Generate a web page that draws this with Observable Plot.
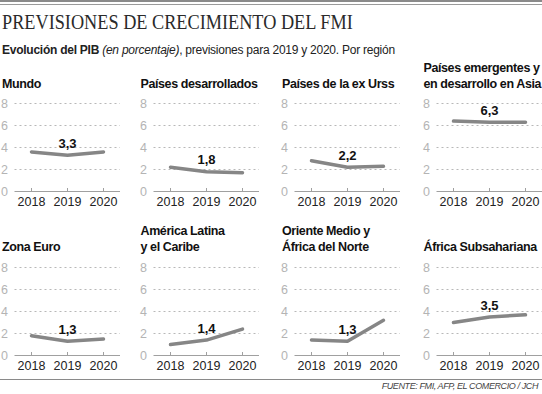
<!DOCTYPE html>
<html>
<head>
<meta charset="utf-8">
<script src="https://cdn.jsdelivr.net/npm/d3@7"></script>
<script src="https://cdn.jsdelivr.net/npm/@observablehq/plot@0.6"></script>
<style>
  html, body { margin: 0; padding: 0; background: #fff; }
  #root { position: relative; width: 542px; height: 394px; overflow: hidden; background: #fff; font-family: "Liberation Sans", Arial, sans-serif; color: #222; }
  .abs { position: absolute; white-space: nowrap; }
  .ptitle { font-weight: bold; font-size: 12.5px; letter-spacing: -0.4px; color: #111; line-height: 16px; }
  .panel { position: absolute; width: 141px; height: 120px; }
  .panel svg { overflow: visible; max-width: none !important; }
</style>
</head>
<body>
<div id="root"></div>
<script>
// ---- data ----
const years = ["2018", "2019", "2020"];
const regions = [
  "Mundo", "Países desarrollados", "Países de la ex Urss", "Países emergentes y en desarrollo en Asia",
  "Zona Euro", "América Latina y el Caribe", "Oriente Medio y África del Norte", "África Subsahariana"
];
const titleLines = [
  ["Mundo"], ["Países desarrollados"], ["Países de la ex Urss"], ["Países emergentes y", "en desarrollo en Asia"],
  ["Zona Euro"], ["América Latina", "y el Caribe"], ["Oriente Medio y", "África del Norte"], ["África Subsahariana"]
];
const mundo = [3.6, 3.3, 3.6];
const desarrollados = [2.2, 1.8, 1.7];
const exUrss = [2.8, 2.2, 2.3];
const asia = [6.4, 6.3, 6.3];
const zonaEuro = [1.8, 1.3, 1.5];
const latam = [1.0, 1.4, 2.4];
const mena = [1.4, 1.3, 3.2];
const subsahariana = [3.0, 3.5, 3.7];
const seriesValues = [mundo, desarrollados, exUrss, asia, zonaEuro, latam, mena, subsahariana];
const yTicks = [0, 2, 4, 6, 8];
const labelYear = "2019";

const titleText = "PREVISIONES DE CRECIMIENTO DEL FMI";
const sourceText = "FUENTE: FMI, AFP, EL COMERCIO / JCH";

// ---- layout ----
const root = document.getElementById("root");
const fmt = v => v.toFixed(1).replace(".", ",");

function placeText(html, x, baseline, fs, lh, cls, extraStyle, asc = 0.905, desc = 0.212) {
  const d = document.createElement("div");
  d.className = "abs " + (cls || "");
  d.innerHTML = html;
  const top = baseline - ((lh - (asc + desc) * fs) / 2 + asc * fs);
  d.style.left = x + "px";
  d.style.top = top + "px";
  d.style.fontSize = fs + "px";
  d.style.lineHeight = lh + "px";
  if (extraStyle) Object.assign(d.style, extraStyle);
  root.appendChild(d);
  return d;
}

// top rules
const r1 = document.createElement("div");
Object.assign(r1.style, {position: "absolute", left: "0", top: "0", width: "542px", height: "2px", background: "#8a8a8a"});
root.appendChild(r1);
const r2 = document.createElement("div");
Object.assign(r2.style, {position: "absolute", left: "0", top: "4px", width: "542px", height: "1px", background: "#9a9a9a"});
root.appendChild(r2);

// title
placeText(titleText, 2, 29.3, 20.5, 24, "", {
  fontFamily: "'Liberation Serif', serif", color: "#2a2a2a", transform: "scaleX(0.89)", transformOrigin: "0 0"
}, 0.891, 0.216);

// subtitle
placeText('<b>Evolución del PIB</b> <i>(en porcentaje)</i>, previsiones para 2019 y 2020. Por región',
  2, 54.5, 12, 14, "", {letterSpacing: "-0.25px", color: "#222"});

// panels
const colLeft = [3, 141.5, 283, 424.5];
const rowTitleBase = [88.5, 251.5];
const rowSvgTop = [92.7, 256.7];

regions.forEach((name, i) => {
  const col = i % 4, row = Math.floor(i / 4);
  const L = colLeft[col];
  const lines = titleLines[i];
  lines.forEach((ln, k) => {
    placeText(ln, L - 1, rowTitleBase[row] - (lines.length - 1 - k) * 16, 12.5, 16, "ptitle");
  });
  const data = years.map((y, j) => ({region: name, year: y, value: seriesValues[i][j]}));
  const chart = Plot.plot({
    width: 141,
    height: 120,
    marginLeft: 11.5,
    marginRight: 24,
    marginTop: 10,
    marginBottom: 22,
    x: {type: "point", domain: years, padding: 0.46, label: null},
    y: {domain: [0, 8], label: null},
    style: {fontFamily: "'Liberation Sans', Arial, sans-serif", background: "transparent", overflow: "visible", maxWidth: "none"},
    marks: [
      Plot.gridY(yTicks.filter(t => t > 0), {stroke: "#b8b8b8", strokeOpacity: 1, strokeDasharray: "2,3"}),
      Plot.ruleY([0], {stroke: "#a0a0a0"}),
      Plot.axisY({ticks: yTicks, tickSize: 0, tickPadding: 7, fill: "#b4b4b4", fontSize: 12.5, label: null}),
      Plot.axisX({tickSize: -3, tickFormat: () => "", stroke: "#a0a0a0", label: null}),
      Plot.axisX({tickSize: 0, tickPadding: 6, fill: "#222", fontSize: 12.5, label: null}),
      Plot.line(data, {x: "year", y: "value", stroke: "#868686", strokeWidth: 3.5}),
      Plot.text(data.filter(d => d.year === labelYear), {
        x: "year", y: "value", text: d => fmt(d.value), dy: -11.5,
        fontWeight: "bold", fontSize: 13, fill: "#111"
      })
    ]
  });
  const wrap = document.createElement("div");
  wrap.className = "panel";
  wrap.style.left = L + "px";
  wrap.style.top = rowSvgTop[row] + "px";
  wrap.appendChild(chart);
  root.appendChild(wrap);
});

// bottom rule & source
const r3 = document.createElement("div");
Object.assign(r3.style, {position: "absolute", left: "0", top: "379px", width: "542px", height: "1px", background: "#8a8a8a"});
root.appendChild(r3);
const src = placeText(sourceText, 0, 389.5, 9, 11, "", {
  fontStyle: "italic", color: "#444", letterSpacing: "-0.4px", right: "4px", left: "auto", textAlign: "right"
});
</script>
</body>
</html>
